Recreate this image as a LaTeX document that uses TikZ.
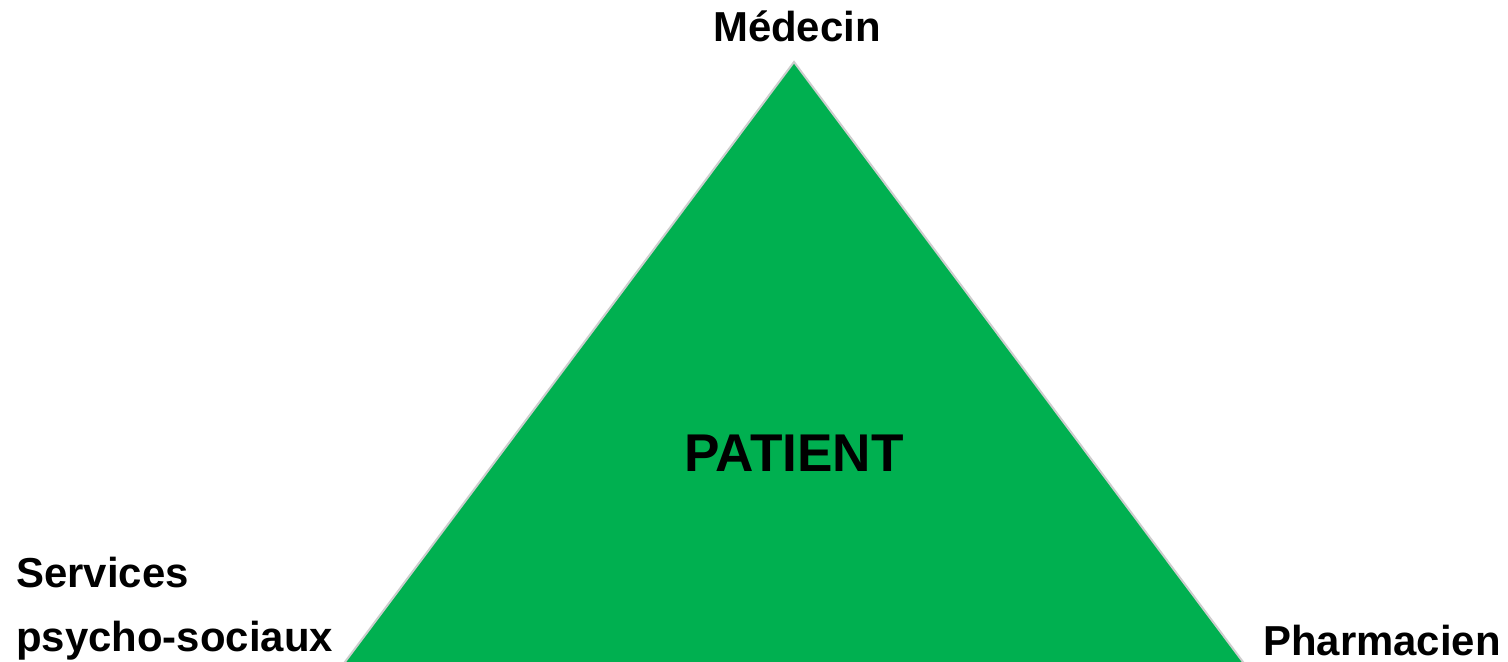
\documentclass[tikz,border=0pt]{standalone}
\usepackage{fontspec}
\setmainfont{Liberation Sans}
\usetikzlibrary{positioning}
\definecolor{patgreen}{RGB}{0,176,80}
\definecolor{edgegray}{RGB}{205,205,205}

\begin{document}
\begin{tikzpicture}[x=0.25mm,y=-0.25mm,
          lbl/.style={inner sep=0pt,font=\fontsize{29.8}{45.4}\selectfont\bfseries,align=left}]
        \useasboundingbox (0,0) rectangle (1508,662);
        \coordinate (top) at (794,62);
        \coordinate (bl) at (342,666);
        \coordinate (br) at (1246,666);
        \filldraw[fill=patgreen,draw=edgegray,line width=0.5mm] (top) -- (bl) -- (br) -- cycle;
        \node[lbl,anchor=base] (med) at (797,42) {Médecin};
        \node[lbl,anchor=base,font=\fontsize{37.8}{44}\selectfont\bfseries] (pat) at (794,472) {PATIENT};
        \node[lbl,anchor=base west] (serv) at (16,651) {Services\\psycho-sociaux};
        \node[lbl,anchor=base west] (pharm) at (1263,655) {Pharmacien};
      \end{tikzpicture}
\end{document}
